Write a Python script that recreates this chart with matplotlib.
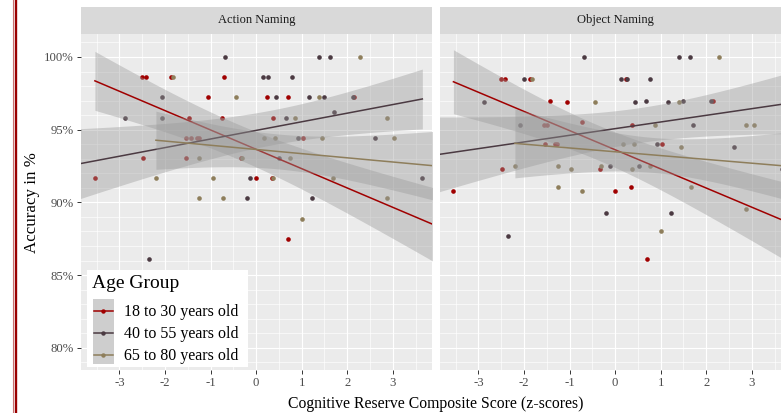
import numpy as np
import matplotlib
matplotlib.use('Agg')
import matplotlib.pyplot as plt
from matplotlib.patches import Rectangle
from matplotlib.lines import Line2D
from matplotlib.ticker import FixedLocator, FuncFormatter

plt.rcParams['font.family'] = ['Liberation Serif', 'DejaVu Serif']

# ---------------- data ----------------
panels = ['Action Naming', 'Object Naming']
groups = ['18 to 30 years old', '40 to 55 years old', '65 to 80 years old']
colors = ['#A00000', '#4B3A42', '#8E7E5B']

# Action Naming
act_y_18_x = [-3.54, -2.51, -2.41, -2.48, -1.86, -1.55, -1.53, -1.47, -1.43, -1.30, -1.26, -1.05,
              -0.74, -0.71, -0.34, 0.00, 0.24, 0.35, 0.38, 0.69, 1.02, 2.15, 0.71]
act_y_18_acc = [91.67, 98.61, 98.61, 93.06, 98.61, 94.44, 93.06, 95.83, 94.44, 94.44, 94.44, 97.22,
                95.83, 98.61, 93.06, 91.67, 97.22, 91.67, 95.83, 97.22, 94.44, 97.22, 87.50]
act_y_40_x = [-2.88, -2.06, -2.06, -0.68, -0.20, -0.13, 0.15, 0.26, 0.44, 0.51, 0.66, 0.78,
              0.93, 1.16, 1.22, 1.38, 1.49, 1.63, 1.70, 2.12, 2.60, 3.65, -2.36]
act_y_40_acc = [95.83, 97.22, 95.83, 100.0, 90.28, 91.67, 98.61, 98.61, 97.22, 93.06, 95.83, 98.61,
                94.44, 97.22, 90.28, 100.0, 97.22, 100.0, 96.20, 97.22, 94.44, 91.67, 86.11]
act_y_65_x = [-2.20, -1.82, -1.25, -1.25, -0.95, -0.72, -0.45, -0.31, 0.18, 0.38, 0.42, 0.75,
              0.86, 1.38, 1.44, 1.69, 2.29, 2.87, 2.87, 3.03, 1.00]
act_y_65_acc = [91.67, 98.61, 93.06, 90.28, 91.67, 90.28, 97.22, 93.06, 94.44, 91.67, 94.44, 93.06,
                95.83, 97.22, 94.44, 91.67, 100.0, 95.83, 90.28, 94.44, 88.89]

# Object Naming
obj_y_18_x = [-3.55, -2.51, -2.41, -2.48, -1.86, -1.56, -1.54, -1.49, -1.44, -1.31, -1.28, -1.05,
              -0.73, -0.34, -0.01, 0.24, 0.35, 0.38, 0.70, 1.03, 2.16]
obj_y_18_acc = [90.78, 98.47, 98.47, 92.30, 98.51, 95.34, 94.00, 95.34, 96.97, 94.00, 94.00, 96.93,
                95.51, 92.30, 90.78, 98.51, 91.06, 95.34, 86.13, 94.00, 96.97]
obj_y_40_x = [-2.88, -2.36, -2.08, -2.01, -0.69, -0.20, -0.12, 0.13, 0.27, 0.43, 0.52, 0.68,
              0.76, 0.92, 1.16, 1.23, 1.40, 1.50, 1.65, 1.71, 2.11, 2.61, 3.66]
obj_y_40_acc = [96.93, 87.67, 95.34, 98.51, 100.0, 89.25, 92.52, 98.51, 98.51, 96.93, 92.52, 96.97,
                98.47, 94.00, 96.93, 89.25, 100.0, 96.97, 100.0, 95.34, 96.97, 93.83, 92.30]
obj_y_65_x = [-2.19, -1.83, -1.25, -1.25, -0.97, -0.73, -0.45, -0.31, 0.18, 0.37, 0.41, 0.77,
              0.88, 1.01, 1.40, 1.45, 1.67, 2.29, 2.87, 2.87, 3.05]
obj_y_65_acc = [92.52, 98.51, 92.52, 91.04, 92.30, 90.78, 96.93, 92.52, 94.00, 92.30, 94.00, 92.52,
                95.34, 88.05, 96.93, 93.83, 91.04, 100.0, 95.34, 89.53, 95.34]

points = {
    'Action Naming': [(act_y_18_x, act_y_18_acc), (act_y_40_x, act_y_40_acc), (act_y_65_x, act_y_65_acc)],
    'Object Naming': [(obj_y_18_x, obj_y_18_acc), (obj_y_40_x, obj_y_40_acc), (obj_y_65_x, obj_y_65_acc)],
}

# linear fits (per group: red, dark, tan)
fit_intercept = {'Action Naming': [93.65, 94.95, 93.64], 'Object Naming': [93.62, 95.07, 93.48]}
fit_slope = {'Action Naming': [-1.33, 0.592, -0.288], 'Object Naming': [-1.317, 0.458, -0.262]}
fit_xmin = {'Action Naming': [-3.54, -4.2, -2.20], 'Object Naming': [-3.55, -4.2, -2.20]}
fit_xmax = {'Action Naming': [4.2, 3.65, 4.2], 'Object Naming': [4.2, 3.66, 4.2]}
band_min = {'Action Naming': [1.2, 1.2, 1.2], 'Object Naming': [1.2, 1.2, 1.2]}
band_growth = {'Action Naming': [0.52, 0.50, 0.596], 'Object Naming': [0.581, 0.519, 0.677]}
band_center = {'Action Naming': [-0.40, 0.305, 0.483], 'Object Naming': [-0.376, 0.516, 0.822]}

x_ticks = [-3, -2, -1, 0, 1, 2, 3]
y_ticks = [80, 85, 90, 95, 100]
x_title = 'Cognitive Reserve Composite Score (z-scores)'
y_title = 'Accuracy in %'
legend_title = 'Age Group'

# ---------------- layout ----------------
W, H = 781, 413
fig = plt.figure(figsize=(W / 100, H / 100), dpi=100)
fig.patch.set_facecolor('white')


def rect(px0, py0, pw, ph):
    return [px0 / W, 1 - (py0 + ph) / H, pw / W, ph / H]


panel_left = [81, 440]
panel_top, panel_h, panel_w = 34, 336, 351
strip_top, strip_h = 7, 27
xlim = (-3.845, 3.862)
ylim = (78.47, 101.58)

for i, name in enumerate(panels):
    ax = fig.add_axes(rect(panel_left[i], panel_top, panel_w, panel_h))
    ax.set_facecolor('#EBEBEB')
    for s in ax.spines.values():
        s.set_visible(False)
    ax.set_xlim(*xlim)
    ax.set_ylim(*ylim)
    ax.xaxis.set_major_locator(FixedLocator(x_ticks))
    ax.yaxis.set_major_locator(FixedLocator(y_ticks))
    ax.xaxis.set_minor_locator(FixedLocator(np.arange(-3.5, 4.0, 1.0)))
    ax.yaxis.set_minor_locator(FixedLocator([v for v in range(78, 103) if v % 5 != 0]))
    ax.grid(which='major', color='white', linewidth=0.85, zorder=0)
    ax.grid(which='minor', color='white', linewidth=0.45, zorder=0)
    ax.set_axisbelow(True)
    ax.xaxis.set_major_formatter(FuncFormatter(lambda v, p: '%d' % v))
    ax.yaxis.set_major_formatter(FuncFormatter(lambda v, p: '%d%%' % v))
    ax.tick_params(which='major', length=2.9, width=0.7, color='#333333',
                   labelsize=9.2, labelcolor='#4D4D4D', pad=2.2)
    ax.tick_params(which='minor', length=0)
    if i == 1:
        ax.tick_params(axis='y', which='both', left=False, labelleft=False)

    for g in range(3):
        xs, ys = points[name][g]
        ax.scatter(xs, ys, s=11, color=colors[g], linewidths=0, zorder=2)

    for g in range(3):
        xx = np.linspace(fit_xmin[name][g], fit_xmax[name][g], 100)
        yy = fit_intercept[name][g] + fit_slope[name][g] * xx
        hw = np.sqrt(band_min[name][g] ** 2 + (band_growth[name][g] * (xx - band_center[name][g])) ** 2)
        ax.fill_between(xx, yy - hw, yy + hw, color='#999999', alpha=0.4, linewidth=0, zorder=3 + g * 0.2)
        ax.plot(xx, yy, color=colors[g], linewidth=1.1, zorder=3.1 + g * 0.2)

    sax = fig.add_axes(rect(panel_left[i], strip_top, panel_w, strip_h))
    sax.set_facecolor('#D9D9D9')
    sax.set_xticks([])
    sax.set_yticks([])
    for s in sax.spines.values():
        s.set_visible(False)
    sax.text(0.5, 0.5, name, ha='center', va='center', fontsize=9, color='#1A1A1A',
             transform=sax.transAxes)

fig.text(436 / W, 1 - 404 / H, x_title, ha='center', va='center', fontsize=11.3, color='black')
fig.text(32 / W, 1 - 203 / H, y_title, ha='center', va='center', rotation=90, fontsize=12.2,
         color='black')

# overlay in pixel coordinates: border lines + legend
ov = fig.add_axes([0, 0, 1, 1], zorder=10)
ov.set_xlim(0, W)
ov.set_ylim(H, 0)
ov.axis('off')
ov.patch.set_alpha(0)
ov.add_line(Line2D([12.5, 12.5], [0, H], color='#C87070', linewidth=0.8))
ov.add_line(Line2D([16.2, 16.2], [0, H], color='#9A0000', linewidth=1.7))

ov.add_patch(Rectangle((87, 270), 161, 97, facecolor='white', edgecolor='none'))
ov.text(92, 287.5, legend_title, ha='left', va='baseline', fontsize=14, color='black')
ov.add_patch(Rectangle((92.7, 299), 21.3, 65, facecolor='#F2F2F2', edgecolor='none'))
ov.add_patch(Rectangle((92.7, 299), 21.3, 65, facecolor='#999999', alpha=0.4, edgecolor='none'))
key_y = [311, 333, 355]
for g in range(3):
    ov.add_line(Line2D([94, 112.7], [key_y[g], key_y[g]], color=colors[g], linewidth=1.1))
    ov.plot([103.4], [key_y[g]], 'o', color=colors[g], markersize=3.2, markeredgewidth=0)
    ov.text(124.3, key_y[g] + 1, groups[g], ha='left', va='center', fontsize=11.5, color='black')

fig.savefig('out.png', dpi=100)
